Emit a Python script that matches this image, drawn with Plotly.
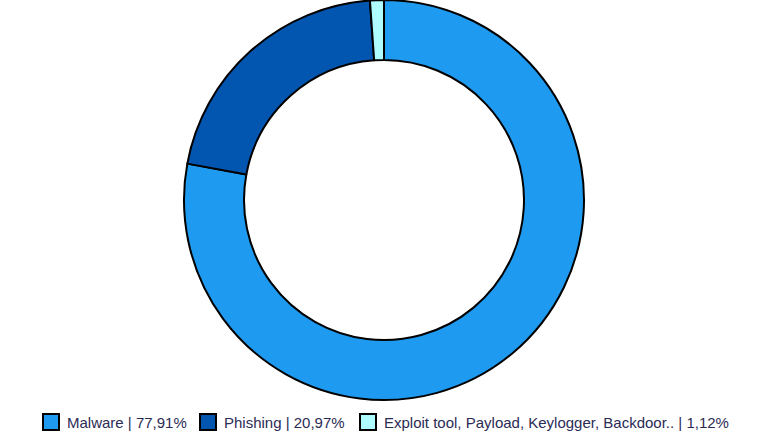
import plotly.graph_objects as go

categories = ["Malware", "Phishing", "Exploit tool, Payload, Keylogger, Backdoor.."]
shares = [77.91, 20.97, 1.12]
colors = ["#1e9bf0", "#0356b0", "#aefcff"]

labels = [f"{c} | {str(v).replace('.', ',')}%" for c, v in zip(categories, shares)]

W, H = 768, 442
PLOT_H = 400  # height of the plot area (margin b = 42)

fig = go.Figure(go.Pie(
    labels=labels,
    values=shares,
    hole=0.7,
    sort=False,
    direction="clockwise",
    rotation=0,
    textinfo="none",
    showlegend=False,
    marker=dict(colors=colors, line=dict(color="#000000", width=2)),
))

# hand-built legend so the swatches match the bigger boxed squares
item_x = [42, 199, 359]  # left edge of each swatch in px


def py(v):
    # figure px (from top) -> paper y of the plot area
    return (PLOT_H - v) / PLOT_H


for x0, lab, col in zip(item_x, labels, colors):
    fig.add_shape(type="rect", xref="paper", yref="paper",
                  x0=(x0 + 1) / W, x1=(x0 + 17) / W,
                  y0=py(430), y1=py(414),
                  fillcolor=col, line=dict(color="#000000", width=2))
    fig.add_annotation(x=(x0 + 23) / W, y=py(422), xref="paper", yref="paper",
                       text=lab, showarrow=False, xanchor="left", yanchor="middle",
                       font=dict(size=15, color="#2b2b55"))

fig.update_layout(
    width=W,
    height=H,
    margin=dict(l=0, r=0, t=0, b=42),
    paper_bgcolor="white",
    font=dict(family="Liberation Sans, Arial, sans-serif", size=15, color="#2b2b55"),
)

fig.write_html("out.html", config={"displayModeBar": False},
               post_script="document.body.style.margin='0';")
